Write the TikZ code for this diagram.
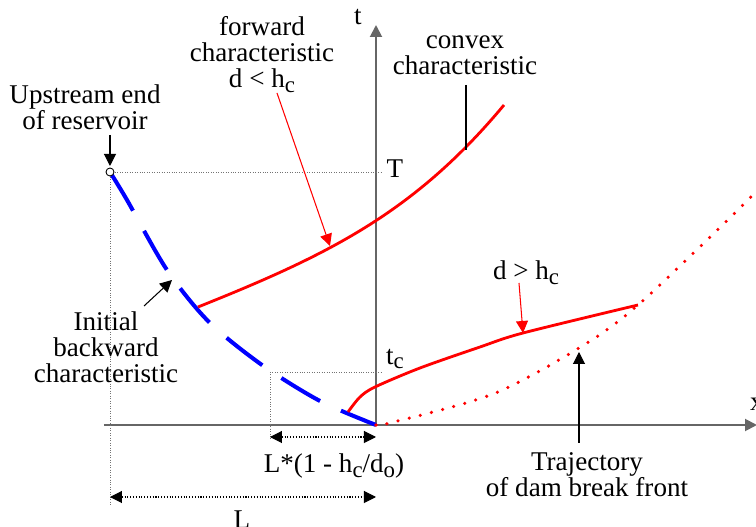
\documentclass[tikz,border=0pt]{standalone}
\usepackage{fontspec}
\setmainfont{Liberation Serif}
\usetikzlibrary{arrows.meta}
\newcommand{\lowsub}[1]{\raisebox{-0.4ex}{\fontsize{13}{13}\selectfont #1}}

\begin{document}
\begin{tikzpicture}[font=\fontsize{15.4}{14.8}\selectfont,
  tip/.style={-{Triangle[length=0.24cm,width=0.24cm]}},
  both/.style={{Triangle[length=0.24cm,width=0.24cm]}-{Triangle[length=0.24cm,width=0.24cm]}},
  guide/.style={densely dotted,black!55,line width=0.4pt},
  lbl/.style={align=center,inner sep=0pt}]
\useasboundingbox (-7.52,-2.04) rectangle (7.6,8.5);

\coordinate (O) at (0,0);
\coordinate (U) at (-5.32,5.06);
\coordinate (Tend) at (0.14,5.06);
\coordinate (Ubot) at (-5.32,-1.6);
\coordinate (C) at (-2.12,1.06);
\coordinate (Cend) at (0.12,1.06);
\coordinate (Cbot) at (-2.12,-0.3);
\coordinate (F0) at (-3.56,2.36);
\coordinate (F1) at (2.56,6.4);

% axes
\draw[black!60,line width=1.1pt,tip] (-5.44,0)--(7.62,0);
\draw[black!60,line width=1.1pt,tip] (0,0)--(0,8);
\node (xlab) at (7.62,0.42) {x};
\node (tlab) at (-0.36,8.16) {t};

% guide lines
\draw[guide] (U)--(Tend);
\draw[guide] (U)--(Ubot);
\draw[guide] (C)--(Cend);
\draw[guide] (C)--(Cbot);
\node[lbl] (T) at (0.38,5.12) {T};
\node[lbl] (tc) at (0.38,1.32) {t\lowsub{c}};

% initial backward characteristic
\draw[blue,line width=2.3pt,dash pattern=on 0.9cm off 0.46cm]
  plot[smooth] coordinates {(U) (-4.98,4.5) (-4.18,3.1) (-3.34,2.06) (-2.28,1.2) (-1.12,0.48) (O)};
\draw[fill=white,line width=0.5pt] (U) circle (0.08);

% forward characteristics
\draw[red,line width=1.6pt] (F0) .. controls (-0.96,3.4) and (0.76,4.24) .. (F1);
\draw[red,line width=1.6pt]
  plot[smooth] coordinates {(-0.56,0.26) (-0.32,0.56) (-0.02,0.76) (0.88,1.14) (2.08,1.56) (2.94,1.84) (5.24,2.4)};

% dam break front
\draw[red,line width=2pt,line cap=round,dash pattern=on 0pt off 0.23cm]
  plot[smooth] coordinates {(O) (0.28,0.04) (2.34,0.62) (4.06,1.54) (5.24,2.4) (7.34,4.4) (7.7,4.8)};

% labels
\node[lbl] (fwd) at (-2.28,7.4) {forward\\characteristic\\d < h\lowsub{c}};
\coordinate (fwdA) at (-1.98,6.64);
\coordinate (fwdB) at (-0.92,3.58);
\draw[red,line width=0.6pt,tip] (fwdA)--(fwdB);

\node[lbl] (cvx) at (1.78,7.4) {convex\\characteristic};
\coordinate (cvxA) at (1.8,6.8);
\coordinate (cvxB) at (1.8,5.5);
\draw[line width=0.6pt] (cvxA)--(cvxB);

\node[lbl] (ups) at (-5.82,6.35) {Upstream end\\of reservoir};
\coordinate (upsA) at (-5.32,5.8);
\coordinate (upsB) at (-5.32,5.18);
\draw[line width=0.6pt,tip] (upsA)--(upsB);

\node[lbl] (ini) at (-5.4,1.56) {Initial\\backward\\characteristic};
\coordinate (iniA) at (-4.64,2.38);
\coordinate (iniB) at (-4.08,2.9);
\draw[line width=0.6pt,tip] (iniA)--(iniB);

\node[lbl] (dgt) at (3.0,3.04) {d > h\lowsub{c}};
\coordinate (dgtA) at (2.86,2.84);
\coordinate (dgtB) at (2.94,1.84);
\draw[red,line width=0.6pt,tip] (dgtA)--(dgtB);

\node[lbl] (traj) at (4.22,-1.0) {Trajectory\\of dam break front};
\coordinate (trajA) at (4.06,-0.36);
\coordinate (trajB) at (4.06,1.46);
\draw[line width=0.6pt,tip] (trajA)--(trajB);

% lengths
\coordinate (lcA) at (-2.12,-0.24);
\coordinate (lcB) at (0,-0.24);
\draw[densely dotted,line width=0.6pt,both] (lcA)--(lcB);
\node[lbl] (lc) at (-0.84,-0.82) {L*(1 - h\lowsub{c}/d\lowsub{o})};

\coordinate (LA) at (-5.32,-1.44);
\coordinate (LB) at (0,-1.44);
\draw[densely dotted,line width=0.6pt,both] (LA)--(LB);
\node[lbl] (L) at (-2.68,-1.9) {L};
\end{tikzpicture}
\end{document}
